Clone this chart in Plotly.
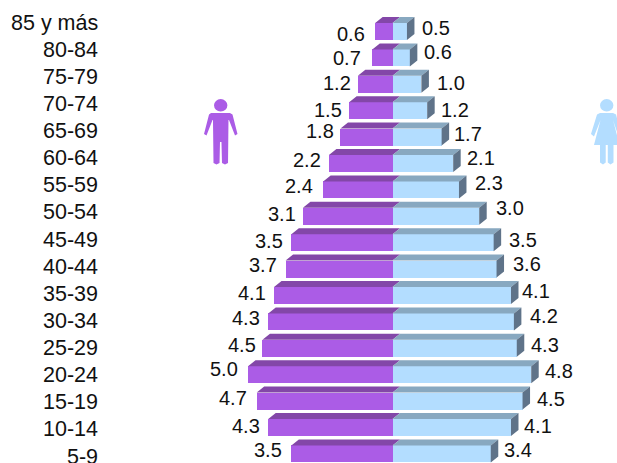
import plotly.graph_objects as go

age_groups = ["85 y más", "80-84", "75-79", "70-74", "65-69", "60-64", "55-59", "50-54", "45-49",
              "40-44", "35-39", "30-34", "25-29", "20-24", "15-19", "10-14", "5-9"]
men = [0.6, 0.7, 1.2, 1.5, 1.8, 2.2, 2.4, 3.1, 3.5, 3.7, 4.1, 4.3, 4.5, 5.0, 4.7, 4.3, 3.5]
women = [0.5, 0.6, 1.0, 1.2, 1.7, 2.1, 2.3, 3.0, 3.5, 3.6, 4.1, 4.2, 4.3, 4.8, 4.5, 4.1, 3.4]

# label nudges in pixels, relative to the bar ends
men_dx = [-24, -25, -21, -21, -20.5, -22, -24, -21, -22, -23, -22, -22, -20, -24, -24, -22, -23]
men_dy = [2.5, 0, -1, -1, -6, -3.5, -4, -2, -2, -4, -2.5, -4, -3, -6, -3, -1.5, -4]
women_dx = [29, 28, 30, 28, 26, 28, 30, 31, 29, 30, 25, 30, 28, 28, 28, 27, 27]
women_dy = [-3.5, -6, -1, -1, -3, -5.5, -7, -8, -3, -5, -4.5, -6, -3, -3.5, -2, -1.5, -4]

W, H = 617, 463
LEFT = 102
X0 = 392.5       # pixel of the zero line
PX_PER_UNIT = 28.9
Y0 = 31.5        # pixel of the first row centre
ROW = 26.4       # pixels per row
BAR = 17 / ROW
DX = 7.5 / PX_PER_UNIT   # depth of the 3-D effect
DY = 6 / ROW
TICK_Y0, TICK_STEP = 22.5, 27.125

PURPLE, PURPLE_TOP = "#AB5CE6", "#8347A8"
BLUE, BLUE_TOP, BLUE_SIDE = "#B3DDFF", "#88A8C0", "#5F7389"
FONT = "Liberation Sans, Arial, sans-serif"

rows = list(range(len(age_groups)))
fig = go.Figure()


def face(xs, ys, color):
    fig.add_trace(go.Scatter(x=xs, y=ys, mode="lines", fill="toself", fillcolor=color,
                             line=dict(width=0), hoverinfo="skip", showlegend=False))


bx, by, sx, sy, mx, my = [], [], [], [], [], []
for r, m, w in zip(rows, men, women):
    f, b = r - BAR / 2, r - BAR / 2 - DY
    mx += [-m, -m + DX, DX, 0, -m, None]
    my += [f, b, b, f, f, None]
    bx += [0, DX, w + DX, w, 0, None]
    by += [f, b, b, f, f, None]
    sx += [w, w + DX, w + DX, w, w, None]
    sy += [f, b, b + BAR, f + BAR, f, None]
face(mx, my, PURPLE_TOP)
face(bx, by, BLUE_TOP)
face(sx, sy, BLUE_SIDE)

fig.add_trace(go.Bar(y=rows, x=[-v for v in men], orientation="h", width=BAR,
                     marker=dict(color=PURPLE, line=dict(width=0)), showlegend=False))
fig.add_trace(go.Bar(y=rows, x=women, orientation="h", width=BAR,
                     marker=dict(color=BLUE, line=dict(width=0)), showlegend=False))

notes = []
for r in rows:
    notes.append(dict(x=-men[r], y=r, text=f"{men[r]:.1f}", xshift=men_dx[r], yshift=-men_dy[r]))
    notes.append(dict(x=women[r], y=r, text=f"{women[r]:.1f}", xshift=women_dx[r], yshift=-women_dy[r]))
for n in notes:
    n.update(showarrow=False, xref="x", yref="y", font=dict(family=FONT, size=20, color="#111111"))

# age labels: plotly drops an axis tick label that overhangs the bottom edge, so they are annotations
for r, label in zip(rows, age_groups):
    notes.append(dict(x=0, xref="paper", xanchor="right", xshift=-2, y=(TICK_Y0 + TICK_STEP * r - Y0) / ROW,
                      yref="y", yanchor="middle", text=label, showarrow=False,
                      font=dict(family=FONT, size=21.5, color="#111111")))


def px(x):
    return (x - LEFT) / (W - LEFT)


def py(y):
    return 1 - y / H


def path(points):
    return "M " + " L ".join(f"{px(x):.4f},{py(y):.4f}" for x, y in points) + " Z"


def head(cx, cy, rx, ry, color):
    return dict(type="circle", xref="paper", yref="paper", x0=px(cx - rx), x1=px(cx + rx),
                y0=py(cy + ry), y1=py(cy - ry), fillcolor=color, line=dict(width=0))


man_pts = [(211, 113), (230, 113), (232.5, 114.5), (237.5, 134), (235, 135.5), (229, 120), (228.5, 120),
           (228, 163), (225, 164.5), (222, 163), (221.5, 142), (220, 142), (219.5, 163), (216.5, 164.5),
           (213.5, 163), (213, 120), (212.5, 120), (206.5, 135.5), (204, 134), (209, 114.5)]
woman_pts = [(600, 113), (613, 113), (616, 114.5), (621, 134), (618.5, 136.5), (613, 120), (619.5, 145),
             (613.5, 145), (613.5, 162.5), (610.5, 164.5), (607.8, 162.5), (607.8, 145), (605.7, 145),
             (605.7, 162.5), (603, 164.5), (600, 162.5), (600, 145), (594, 145), (600.5, 120), (594, 136.5),
             (591, 134), (597, 114.5)]
shapes = [
    head(220.7, 105.3, 6.7, 6.2, PURPLE),
    dict(type="path", xref="paper", yref="paper", path=path(man_pts), fillcolor=PURPLE, line=dict(width=0)),
    head(606.7, 105.3, 6.7, 6.2, BLUE),
    dict(type="path", xref="paper", yref="paper", path=path(woman_pts), fillcolor=BLUE, line=dict(width=0)),
]

fig.update_layout(
    width=W, height=H, margin=dict(l=LEFT, r=0, t=0, b=0, autoexpand=False),
    paper_bgcolor="white", plot_bgcolor="white", barmode="overlay", bargap=0,
    annotations=notes, shapes=shapes, hovermode=False,
    xaxis=dict(range=[(LEFT - X0) / PX_PER_UNIT, (W - X0) / PX_PER_UNIT], visible=False, fixedrange=True),
    yaxis=dict(range=[(H - Y0) / ROW, -Y0 / ROW], visible=False, fixedrange=True),
)
fig.write_html("out.html", config=dict(displayModeBar=False),
               post_script="document.body.style.margin='0';document.documentElement.style.overflow='hidden';")
